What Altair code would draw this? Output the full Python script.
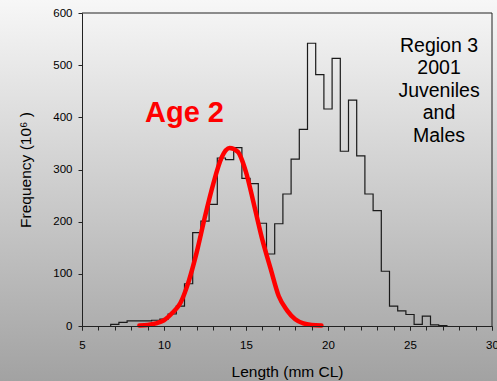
import altair as alt
import pandas as pd

# Histogram: bin centres (mm CL) and frequencies (10^6)
bin_centers = [7.0, 7.5, 8.0, 8.5, 9.0, 9.5, 10.0, 10.5, 11.0, 11.5, 12.0, 12.5,
               13.0, 13.5, 14.0, 14.5, 15.0, 15.5, 16.0, 16.5, 17.0, 17.5, 18.0,
               18.5, 19.0, 19.5, 20.0, 20.5, 21.0, 21.5, 22.0, 22.5, 23.0, 23.5,
               24.0, 24.5, 25.0, 25.5, 26.0, 26.5, 27.0]
bin_counts = [3, 7, 10, 10, 10, 11, 13, 23, 38, 81, 179, 201,
              233, 322, 319, 342, 283, 273, 197, 138, 196, 253, 320,
              377, 542, 482, 416, 513, 335, 433, 326, 253, 221, 105,
              38, 29, 22, 3, 19, 2, 1]

# Age 2 fitted curve
curve_x = [8.5, 9.0, 9.5, 10.0, 10.5, 11.0, 11.5, 12.0, 12.5, 13.0, 13.5, 14.0,
           14.5, 15.0, 15.5, 16.0, 16.5, 17.0, 17.5, 18.0, 18.5, 19.0, 19.6]
curve_y = [1, 2, 5, 11, 25, 44, 85, 142, 210, 272, 322, 341,
           334, 295, 231, 165, 110, 57, 30, 13, 5, 2, 1]

x_minor_ticks = list(range(5, 31))
x_major_ticks = list(range(5, 31, 5))
y_ticks = list(range(0, 601, 50))

age_label = "Age 2"
region_lines = ["Region 3", "2001", "Juveniles", "and", "Males"]

# step outline points
hx = [bin_centers[0] - 0.25] + [c - 0.25 for c in bin_centers] + [bin_centers[-1] + 0.25]
hy = [0] + bin_counts + [0]
hist_df = pd.DataFrame({"x": hx, "y": hy, "i": list(range(len(hx)))})
curve_df = pd.DataFrame({"x": curve_x, "y": curve_y})
one = pd.DataFrame({"a": [0]})

FONT = "Liberation Sans"
x_scale = alt.Scale(domain=[5, 30], nice=False, zero=False)
y_scale = alt.Scale(domain=[0, 600], nice=False)

x_axis_major = alt.Axis(title="Length (mm CL)", values=x_major_ticks, orient="bottom",
                        grid=False, tickSize=4, labelPadding=9, labelFontSize=11.5,
                        labelFont=FONT, labelColor="black", domainColor="#222",
                        tickColor="#222", titleFontSize=15.5, titleFont=FONT,
                        titleFontWeight="normal", titleColor="black",
                        titleBaseline="alphabetic", titleY=50, zindex=1,
                        labelFlush=False, labelOverlap=False, format="d")
x_axis_minor = alt.Axis(title=None, values=x_minor_ticks, orient="bottom",
                        grid=False, tickSize=4, labels=False, domain=False,
                        tickColor="#222", zindex=1)
y_axis = alt.Axis(title="Frequency (10⁶ )", values=y_ticks,
                  labelExpr="datum.value % 100 === 0 ? datum.label : ''",
                  grid=False, tickSize=4, labelPadding=6, labelFontSize=11.5,
                  labelFont=FONT, labelColor="black", domainColor="#222",
                  tickColor="#222", titleFontSize=15.5, titleFont=FONT,
                  titleFontWeight="normal", titleColor="black",
                  titleBaseline="alphabetic", titleX=-51.5, titleY=156.5,
                  titleAngle=-90, zindex=1, labelFlush=False, labelOverlap=False)

bg = alt.Chart(one).mark_rect(
    color={"gradient": "linear", "x1": 0, "x2": 0, "y1": 0, "y2": 1,
           "stops": [{"offset": 0, "color": "#f7f7f7"},
                     {"offset": 1, "color": "#a2a2a2"}]}
).encode(x=alt.value(-82), x2=alt.value(415), y=alt.value(-13), y2=alt.value(368))

hist = alt.Chart(hist_df).mark_line(interpolate="step-after", color="#1a1a1a",
                                    strokeWidth=1.2).encode(
    x=alt.X("x:Q", scale=x_scale, axis=x_axis_major),
    y=alt.Y("y:Q", scale=y_scale, axis=y_axis),
    order=alt.Order("i:Q"),
)

curve = alt.Chart(curve_df).mark_line(interpolate="monotone", color="#ff0000",
                                      strokeWidth=4.5, strokeCap="round").encode(
    x=alt.X("x:Q", axis=x_axis_minor), y="y:Q")

top_rule = alt.Chart(one).mark_rule(color="#222", strokeWidth=1).encode(y=alt.datum(600))
right_rule = alt.Chart(one).mark_rule(color="#222", strokeWidth=1).encode(
    x=alt.X(datum=30, axis=None))

age_text = alt.Chart(one).mark_text(text=age_label, font=FONT, fontSize=29,
                                    fontWeight="bold", color="#ff0000",
                                    align="center", baseline="alphabetic").encode(
    x=alt.X(datum=11.25, axis=None), y=alt.datum(391))

region_text = alt.Chart(one).mark_text(text=region_lines, font=FONT, fontSize=19.5,
                                       lineHeight=22.5, color="black",
                                       align="center", baseline="alphabetic").encode(
    x=alt.X(datum=26.77, axis=None), y=alt.datum(525.5))

chart = alt.layer(bg, hist, curve, top_rule, right_rule, age_text, region_text).resolve_axis(
    x="independent"
).properties(
    width=410, height=313,
    padding={"left": 82, "top": 13, "right": 5, "bottom": 55},
    autosize=alt.AutoSizeParams(type="none"),
    background="#c8c8c8",
).configure_view(stroke=None)

chart.save("out.html", embed_options={"renderer": "svg", "actions": False})
